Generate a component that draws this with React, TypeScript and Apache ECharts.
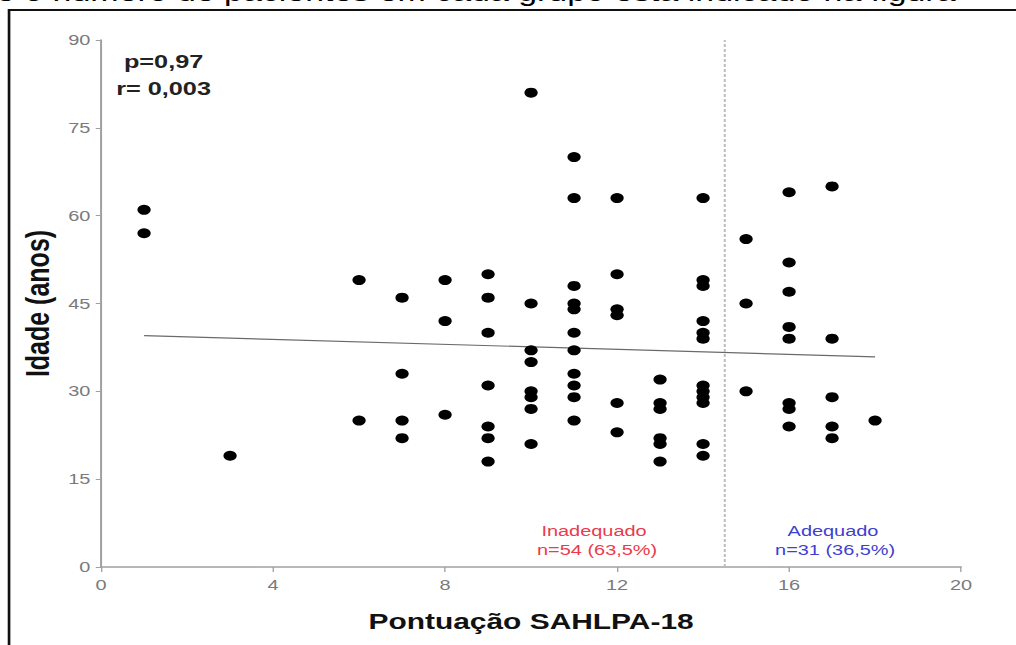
import React, { useEffect, useRef } from "react";
import * as echarts from "echarts";

// The source picture is stretched horizontally; the chart is drawn in a
// narrower box and stretched with CSS to reproduce it.
const BOX_W = 764;
const BOX_H = 645;
const STRETCH = 1016 / BOX_W;

const scoreValues = [1, 3, 6, 7, 8, 9, 10, 11, 12, 13, 14, 15, 16, 17, 18];
const agesByScore = [
  [61, 57],
  [19],
  [49, 25],
  [46, 33, 25, 22],
  [49, 42, 26],
  [50, 46, 40, 31, 24, 22, 18],
  [81, 45, 37, 35, 30, 29, 27, 21],
  [70, 63, 48, 45, 44, 40, 37, 33, 31, 29, 25],
  [63, 50, 44, 43, 28, 23],
  [32, 28, 27, 22, 21, 18],
  [63, 49, 48, 42, 40, 39, 31, 30, 29, 28, 21, 19],
  [56, 45, 30],
  [64, 52, 47, 41, 39, 28, 27, 24],
  [65, 39, 29, 24, 22],
  [25],
];
const trendLine = [
  [1, 39.5],
  [18, 35.9],
];
const cutOff = 14.5;
const xTicks = { min: 0, max: 20, interval: 4 };
const yTicks = { min: 0, max: 90, interval: 15 };

const statsLines = ["p=0,97", "r= 0,003"];
const groupLabels = [
  { name: "Inadequado", n: "n=54 (63,5%)", color: "#ec3a4c" },
  { name: "Adequado", n: "n=31 (36,5%)", color: "#3f3fd0" },
];
const captionText = "e o número de pacientes em cada grupo está indicado na figura";

const FONT = '"Liberation Sans", Arial, sans-serif';

export default function App() {
  const ref = useRef<HTMLDivElement>(null);

  useEffect(() => {
    const el = ref.current;
    if (!el) return;
    const chart = echarts.init(el, null, { renderer: "svg" });

    const points: number[][] = [];
    scoreValues.forEach((s, i) => {
      agesByScore[i].forEach((a) => points.push([s, a]));
    });

    const text = (
      content: string,
      x: number,
      y: number,
      size: number,
      color: string,
      weight: string,
      align: string
    ) => ({
      type: "text",
      x,
      y,
      silent: true,
      style: {
        text: content,
        fontSize: size,
        fontFamily: FONT,
        fontWeight: weight,
        fill: color,
        align,
        textAlign: align,
        verticalAlign: "middle",
        textVerticalAlign: "middle",
      },
    });

    chart.setOption({
      animation: false,
      backgroundColor: "#ffffff",
      grid: { left: 76, right: 41.3, top: 40, bottom: 78 },
      xAxis: {
        type: "value",
        min: xTicks.min,
        max: xTicks.max,
        interval: xTicks.interval,
        name: "Pontuação SAHLPA-18",
        nameLocation: "middle",
        nameGap: 43,
        nameTextStyle: {
          fontFamily: FONT,
          fontWeight: "bold",
          fontSize: 22.5,
          color: "#111",
        },
        axisLine: { show: true, lineStyle: { color: "#a0a0a0", width: 1.5 } },
        axisTick: { show: true, length: 5, lineStyle: { color: "#a0a0a0" } },
        axisLabel: { color: "#7a7a7a", fontSize: 15, fontFamily: FONT, margin: 10 },
        splitLine: { show: false },
      },
      yAxis: {
        type: "value",
        min: yTicks.min,
        max: yTicks.max,
        interval: yTicks.interval,
        name: "Idade (anos)",
        nameLocation: "middle",
        nameGap: 23,
        nameTextStyle: {
          fontFamily: FONT,
          fontWeight: "bold",
          fontSize: 25,
          color: "#111",
        },
        axisLine: { show: true, lineStyle: { color: "#a0a0a0", width: 1.5 } },
        axisTick: { show: true, length: 4, lineStyle: { color: "#a0a0a0" } },
        axisLabel: { color: "#7a7a7a", fontSize: 15, fontFamily: FONT, margin: 8 },
        splitLine: { show: false },
      },
      series: [
        {
          type: "line",
          data: trendLine,
          symbol: "none",
          silent: true,
          lineStyle: { color: "#6a6a6a", width: 1.2 },
          z: 1,
        },
        {
          type: "scatter",
          data: points,
          symbol: "circle",
          symbolSize: 10,
          itemStyle: { color: "#000", opacity: 1 },
          z: 3,
          markLine: {
            silent: true,
            symbol: "none",
            label: { show: false },
            lineStyle: { type: [3, 2], color: "#bdbdbd", width: 1.5 },
            data: [{ xAxis: cutOff }],
          },
        },
      ],
      graphic: [
        {
          type: "rect",
          silent: true,
          shape: { x: 6.8, y: 10, width: 820, height: 700 },
          style: { fill: "none", stroke: "#111", lineWidth: 2 },
        },
        text(captionText, -3, -8, 25.5, "#000", "normal", "left"),
        text(statsLines[0], 123, 62, 19, "#222", "bold", "center"),
        text(statsLines[1], 123, 89, 19, "#222", "bold", "center"),
        text(groupLabels[0].name, 446.7, 531, 15, groupLabels[0].color, "normal", "center"),
        text(groupLabels[0].n, 449, 550, 15, groupLabels[0].color, "normal", "center"),
        text(groupLabels[1].name, 626.4, 531, 15, groupLabels[1].color, "normal", "center"),
        text(groupLabels[1].n, 628, 550, 15, groupLabels[1].color, "normal", "center"),
      ],
    });

    return () => chart.dispose();
  }, []);

  return (
    <div
      ref={ref}
      style={{
        position: "absolute",
        left: 0,
        top: 0,
        width: BOX_W,
        height: BOX_H,
        transform: `scaleX(${STRETCH})`,
        transformOrigin: "0 0",
      }}
    />
  );
}
